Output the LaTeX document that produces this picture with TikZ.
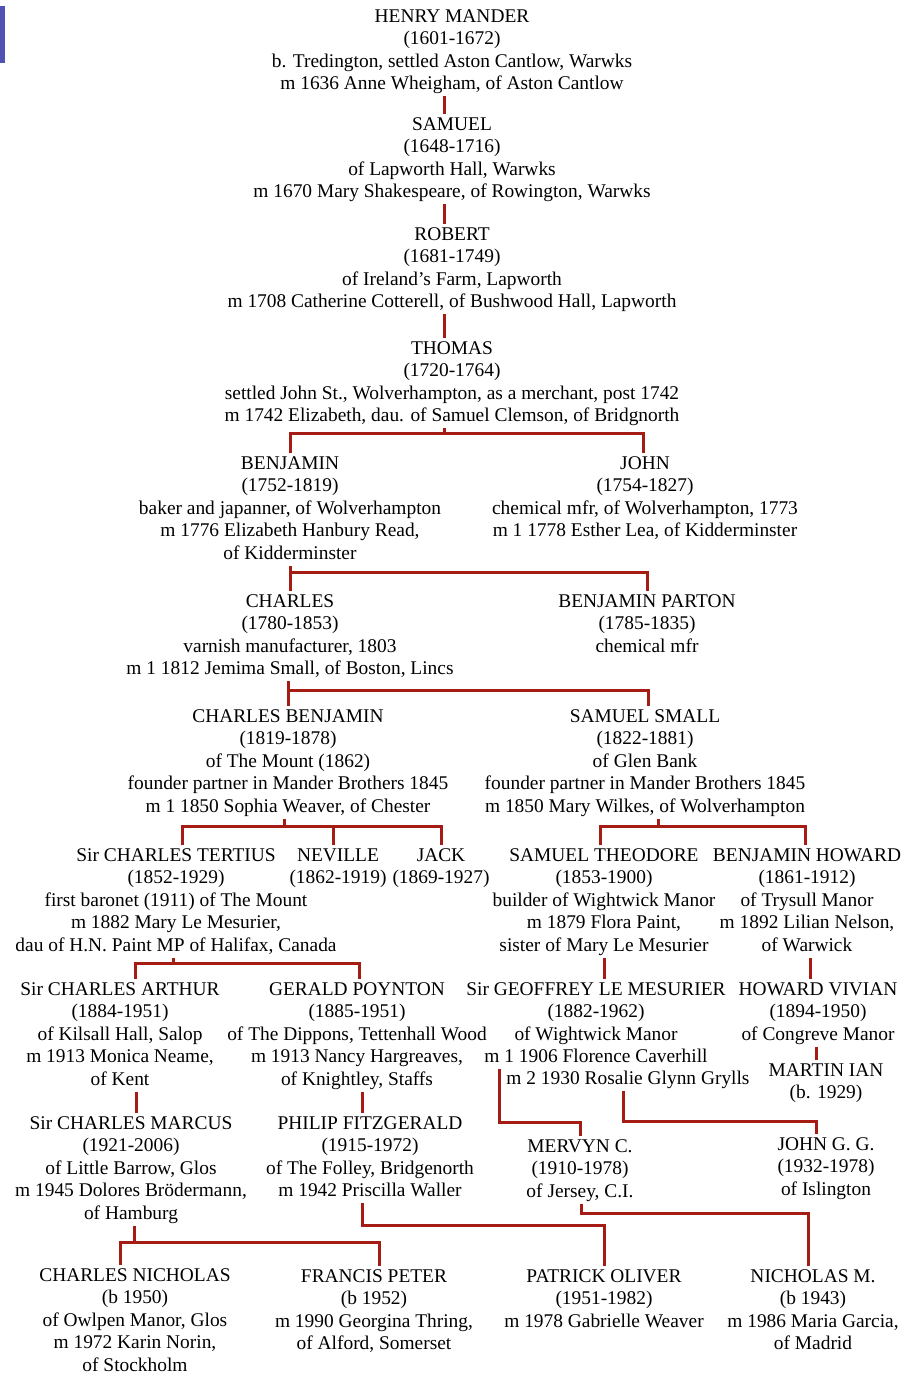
\documentclass[tikz,border=0pt]{standalone}
\usepackage{fontspec}
\setmainfont{Liberation Serif}
\definecolor{linered}{RGB}{165,28,20}
\definecolor{barblue}{RGB}{80,82,180}
\newcommand{\pstr}{\strut}
\begin{document}
\begin{tikzpicture}[x=1pt,y=-1pt,
  pn/.style={anchor=north,align=center,inner sep=0pt,outer sep=0pt,
    font=\fontsize{19.4}{22.5}\selectfont},
  rl/.style={draw=linered,line width=3pt}]
\useasboundingbox (0,0) rectangle (905,1373);
\fill[barblue] (0,6) rectangle (5,63);

% generation nodes
\node[pn] (henry) at (452,6.25) {\pstr HENRY MANDER\\(1601-1672)\\b. Tredington, settled Aston Cantlow, Warwks\\m 1636 Anne Wheigham, of Aston Cantlow\pstr};
\node[pn] (samuel) at (452,114.25) {\pstr SAMUEL\\(1648-1716)\\of Lapworth Hall, Warwks\\m 1670 Mary Shakespeare, of Rowington, Warwks\pstr};
\node[pn] (robert) at (452,224.25) {\pstr ROBERT\\(1681-1749)\\of Ireland’s Farm, Lapworth\\m 1708 Catherine Cotterell, of Bushwood Hall, Lapworth\pstr};
\node[pn] (thomas) at (452,338.25) {\pstr THOMAS\\(1720-1764)\\settled John St., Wolverhampton, as a merchant, post 1742\\m 1742 Elizabeth, dau. of Samuel Clemson, of Bridgnorth\pstr};
\node[pn] (benjamin) at (290,453.25) {\pstr BENJAMIN\\(1752-1819)\\baker and japanner, of Wolverhampton\\m 1776 Elizabeth Hanbury Read,\\of Kidderminster\pstr};
\node[pn] (john) at (645,453.25) {\pstr JOHN\\(1754-1827)\\chemical mfr, of Wolverhampton, 1773\\m 1 1778 Esther Lea, of Kidderminster\pstr};
\node[pn] (charles) at (290,591.25) {\pstr CHARLES\\(1780-1853)\\varnish manufacturer, 1803\\m 1 1812 Jemima Small, of Boston, Lincs\pstr};
\node[pn] (bparton) at (647,591.25) {\pstr BENJAMIN PARTON\\(1785-1835)\\chemical mfr\pstr};
\node[pn] (cbenjamin) at (288,706.25) {\pstr CHARLES BENJAMIN\\(1819-1878)\\of The Mount (1862)\\founder partner in Mander Brothers 1845\\m 1 1850 Sophia Weaver, of Chester\pstr};
\node[pn] (ssmall) at (645,706.25) {\pstr SAMUEL SMALL\\(1822-1881)\\of Glen Bank\\founder partner in Mander Brothers 1845\\m 1850 Mary Wilkes, of Wolverhampton\pstr};
\node[pn] (tertius) at (176,845.25) {\pstr Sir CHARLES TERTIUS\\(1852-1929)\\first baronet (1911) of The Mount\\m 1882 Mary Le Mesurier,\\dau of H.N. Paint MP of Halifax, Canada\pstr};
\node[pn] (neville) at (338,845.25) {\pstr NEVILLE\\(1862-1919)\pstr};
\node[pn] (jack) at (441,845.25) {\pstr JACK\\(1869-1927)\pstr};
\node[pn] (stheodore) at (604,845.25) {\pstr SAMUEL THEODORE\\(1853-1900)\\builder of Wightwick Manor\\m 1879 Flora Paint,\\sister of Mary Le Mesurier\pstr};
\node[pn] (bhoward) at (807,845.25) {\pstr BENJAMIN HOWARD\\(1861-1912)\\of Trysull Manor\\m 1892 Lilian Nelson,\\of Warwick\pstr};
\node[pn] (arthur) at (120,979.25) {\pstr Sir CHARLES ARTHUR\\(1884-1951)\\of Kilsall Hall, Salop\\m 1913 Monica Neame,\\of Kent\pstr};
\node[pn] (gerald) at (357,979.25) {\pstr GERALD POYNTON\\(1885-1951)\\of The Dippons, Tettenhall Wood\\m 1913 Nancy Hargreaves,\\of Knightley, Staffs\pstr};
\node[pn] (geoffrey) at (596,979.25) {\pstr Sir GEOFFREY LE MESURIER\\(1882-1962)\\of Wightwick Manor\\m 1 1906 Florence Caverhill\pstr};
\node[pn] (geoffm2) at (628,1068.25) {\pstr m 2 1930 Rosalie Glynn Grylls\pstr};
\node[pn] (hvivian) at (818,979.25) {\pstr HOWARD VIVIAN\\(1894-1950)\\of Congreve Manor\pstr};
\node[pn] (martin) at (826,1060.25) {\pstr MARTIN IAN\\(b. 1929)\pstr};
\node[pn] (marcus) at (131,1113.25) {\pstr Sir CHARLES MARCUS\\(1921-2006)\\of Little Barrow, Glos\\m 1945 Dolores Brödermann,\\of Hamburg\pstr};
\node[pn] (philip) at (370,1113.25) {\pstr PHILIP FITZGERALD\\(1915-1972)\\of The Folley, Bridgenorth\\m 1942 Priscilla Waller\pstr};
\node[pn] (mervyn) at (580,1136.25) {\pstr MERVYN C.\\(1910-1978)\\of Jersey, C.I.\pstr};
\node[pn] (johngg) at (826,1134.25) {\pstr JOHN G. G.\\(1932-1978)\\of Islington\pstr};
\node[pn] (cnicholas) at (135,1265.25) {\pstr CHARLES NICHOLAS\\(b 1950)\\of Owlpen Manor, Glos\\m 1972 Karin Norin,\\of Stockholm};
\node[pn] (fpeter) at (374,1266.25) {\pstr FRANCIS PETER\\(b 1952)\\m 1990 Georgina Thring,\\of Alford, Somerset\pstr};
\node[pn] (poliver) at (604,1266.25) {\pstr PATRICK OLIVER\\(1951-1982)\\m 1978 Gabrielle Weaver\pstr};
\node[pn] (nicholasm) at (813,1266.25) {\pstr NICHOLAS M.\\(b 1943)\\m 1986 Maria Garcia,\\of Madrid\pstr};

% helper x positions and junctions
\coordinate (k1) at (444,0);
\coordinate (k2) at (604,0);
\coordinate (k3) at (810,0);
\coordinate (k4) at (816,0);
\coordinate (k5) at (136,0);
\coordinate (k6) at (362,0);
\coordinate (j1) at (444,433);
\coordinate (j2) at (290,572);
\coordinate (j3) at (288,690);
\coordinate (j4) at (284,826);
\coordinate (j5) at (658,826);
\coordinate (j6) at (173,963);
\coordinate (j7) at (499,1122);
\coordinate (j8) at (623,1121);
\coordinate (j9) at (134,1242);
\coordinate (j10) at (362,1225);
\coordinate (j11) at (581,1213);

% connectors
\draw[rl] (henry.south -| k1) -- (samuel.north -| k1);
\draw[rl] (samuel.south -| k1) -- (robert.north -| k1);
\draw[rl] (robert.south -| k1) -- (thomas.north -| k1);
\draw[rl] (thomas.south -| j1) -- (j1);
\draw[rl] (benjamin.north) |- (j1) -| ([xshift=-2pt]john.north);
\draw[rl] (benjamin.south -| j2) -- (j2);
\draw[rl] (charles.north) |- (j2) -| (bparton.north);
\draw[rl] (charles.south -| j3) -- (j3);
\draw[rl] (cbenjamin.north) |- (j3) -| ([xshift=3pt]ssmall.north);
\draw[rl] (cbenjamin.south -| j4) -- (j4);
\draw[rl] ([xshift=6pt]tertius.north) |- (j4) -| (jack.north);
\draw[rl] ([xshift=-5pt]neville.north) -- ([xshift=-5pt]neville.north |- j4);
\draw[rl] (ssmall.south -| j5) -- (j5);
\draw[rl] ([xshift=-4pt]stheodore.north) |- (j5) -| ([xshift=-2pt]bhoward.north);
\draw[rl] (tertius.south -| j6) -- (j6);
\draw[rl] ([xshift=15pt]arthur.north) |- (j6) -| ([xshift=2pt]gerald.north);
\draw[rl] (stheodore.south -| k2) -- (geoffrey.north -| k2);
\draw[rl] (bhoward.south -| k3) -- (hvivian.north -| k3);
\draw[rl] (hvivian.south -| k4) -- (martin.north -| k4);
\draw[rl] (arthur.south -| k5) -- (marcus.north -| k5);
\draw[rl] (gerald.south -| k6) -- (philip.north -| k6);
\draw[rl] (geoffrey.south -| j7) -- (j7) -| (mervyn.north);
\draw[rl] (geoffm2.south -| j8) -- (j8) -| ([xshift=-10pt]johngg.north);
\draw[rl] (marcus.south -| j9) -- (j9);
\draw[rl] ([xshift=-15pt]cnicholas.north) |- (j9) -| ([xshift=5pt]fpeter.north);
\draw[rl] (philip.south -| j10) -- (j10) -| (poliver.north);
\draw[rl] (mervyn.south -| j11) -- (j11) -| ([xshift=-5pt]nicholasm.north);
\end{tikzpicture}
\end{document}
